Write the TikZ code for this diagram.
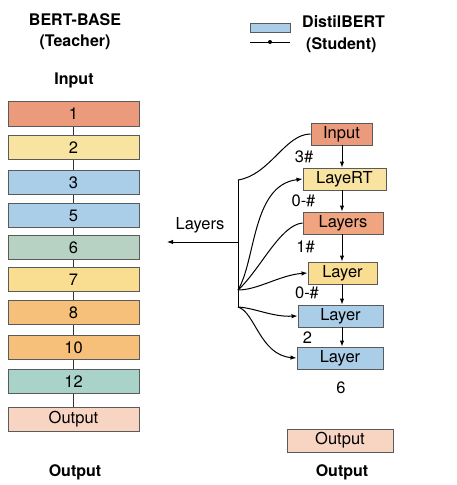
\documentclass[tikz,border=0pt]{standalone}
\usepackage{fontspec}
\setmainfont{TeX Gyre Heros}
\usetikzlibrary{arrows.meta}
\definecolor{boxline}{HTML}{5A5A5A}
\definecolor{csalmon}{HTML}{EC9A7C}
\definecolor{cyellow}{HTML}{F9E3A1}
\definecolor{cyellowb}{HTML}{F9DD91}
\definecolor{cblue}{HTML}{AACDE8}
\definecolor{cgreen}{HTML}{B7D2C3}
\definecolor{corange}{HTML}{F7C07A}
\definecolor{cteal}{HTML}{A9D2C8}
\definecolor{cpeach}{HTML}{F8D5C3}
\definecolor{corsal}{HTML}{F0A47F}
\begin{document}
\begin{tikzpicture}[x=1pt,y=-1pt,
  box/.style={draw=boxline, line width=0.9pt, inner sep=0pt, font=\fontsize{16.5}{19}\selectfont},
  lbox/.style={box, minimum width=131pt, minimum height=24.5pt},
  rbox/.style={box, minimum height=22pt},
  txt/.style={font=\fontsize{16.5}{19}\selectfont, inner sep=0pt},
  head/.style={font=\bfseries\fontsize{16}{19}\selectfont, inner sep=0pt},
  arr/.style={-{Latex[length=6pt,width=4.5pt]}, line width=1pt},
  ln/.style={line width=1pt}]
\useasboundingbox (0,0) rectangle (457,485);

% headings
\node[head] (h1) at (75,20) {BERT-BASE};
\node[head] (h2) at (75,42) {(Teacher)};
\node[head] (h3) at (74,80) {Input};
\node[head] (h4) at (75,472) {Output};
\node[head] (h5) at (342,472) {Output};

% legend
\node[box, fill=cblue, minimum width=40pt, minimum height=9pt] (lgb) at (270,27.5) {};
\coordinate (lg1) at (250,42);
\coordinate (lg2) at (290,42);
\draw[ln] (lg1) -- (lg2);
\node[circle, fill=black, inner sep=0pt, minimum size=4pt] (lgd) at (270,42) {};
\node[head, anchor=west] (lt1) at (302,22) {DistilBERT};
\node[head, anchor=west] (lt2) at (306,45) {(Student)};

% teacher column
\node[lbox, fill=csalmon] (b1) at (73.5,114) {1};
\node[lbox, fill=cyellow] (b2) at (73.5,147.5) {2};
\node[lbox, fill=cblue] (b3) at (73.5,182.5) {3};
\node[lbox, fill=cblue] (b5) at (73.5,215.5) {5};
\node[lbox, fill=cgreen] (b6) at (73.5,247.5) {6};
\node[lbox, fill=cyellowb] (b7) at (73.5,279.5) {7};
\node[lbox, fill=corange] (b8) at (73.5,312.5) {8};
\node[lbox, fill=corange] (b10) at (73.5,347.5) {10};
\node[lbox, fill=cteal] (b12) at (73.5,381.5) {12};
\node[lbox, fill=cpeach, minimum height=24pt] (bout) at (73.5,419) {Output};
\foreach \a/\b in {b1/b2,b2/b3,b3/b5,b5/b6,b6/b7,b7/b8,b8/b10,b10/b12,b12/bout}
  \draw[line width=1pt, black!80] (\a) -- (\b);

% student column
\coordinate (colx) at (342,0);
\node[rbox, fill=csalmon, minimum width=61pt] (in) at (341.5,134) {Input};
\node[rbox, fill=cyellow, minimum width=83pt] (lrt) at (344.5,179) {LayeRT};
\node[rbox, fill=corsal, minimum width=80pt] (lay) at (343,223) {Layers};
\node[rbox, fill=cyellowb, minimum width=69pt] (yl) at (342.5,273) {Layer};
\node[rbox, fill=cblue, minimum width=85pt] (bl1) at (340.5,316) {Layer};
\node[rbox, fill=cblue, minimum width=86pt] (bl2) at (340,358) {Layer};
\node[rbox, fill=cpeach, minimum width=106pt, minimum height=23pt] (rout) at (340,440.5) {Output};

\draw[arr] (in.south -| colx) -- (lrt.north -| colx);
\draw[arr] (lrt.south -| colx) -- (lay.north -| colx);
\draw[arr] (lay.south -| colx) -- (yl.north -| colx);
\draw[arr] (yl.south -| colx) -- (bl1.north -| colx);
\draw[arr] (bl1.south -| colx) -- (bl2.north -| colx);

\node[txt] (l1) at (304,157) {3\#};
\node[txt] (l2) at (303.5,201) {0-\#};
\node[txt] (l3) at (305.5,247) {1\#};
\node[txt] (l4) at (307,293) {0-\#};
\node[txt] (l5) at (307.5,338) {2};
\node[txt] (l6) at (341,388) {6};

% trunk and curves
\coordinate (ttop) at (238,180);
\coordinate (ja) at (238,290);
\coordinate (jb) at (238,307);
\coordinate (jh) at (238,242);
\coordinate (hl) at (167,242);
\draw[ln] (in.west) .. controls (285,134) and (270,175) .. (ttop);
\draw[ln] (ttop) -- (jb);
\draw[arr] (jh) -- (hl);
\node[txt] (laylbl) at (200,225) {Layers};
\draw[arr] (ja) .. controls (256,260) and (252,185) .. (lrt.west);
\draw[ln] (lay.west) .. controls (280,225) and (260,270) .. (ja);
\draw[arr] (ja) .. controls (258,290) and (280,275) .. (yl.west);
\draw[arr] (jb) .. controls (255,308) and (272,317) .. (bl1.west);
\draw[arr] (jb) .. controls (255,312) and (260,355) .. (bl2.west);
\end{tikzpicture}
\end{document}
